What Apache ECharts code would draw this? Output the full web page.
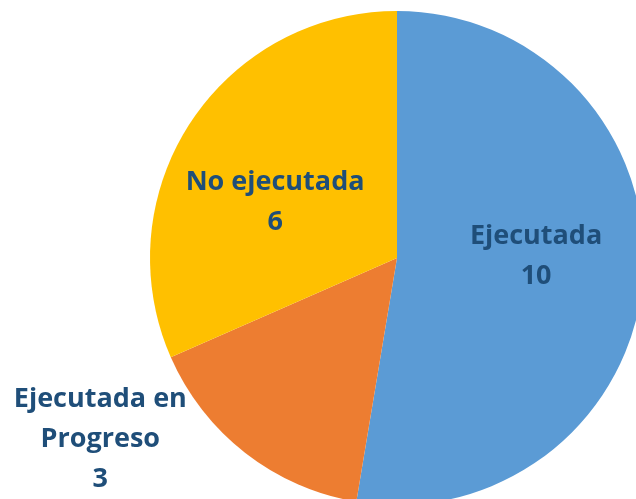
<!DOCTYPE html>
<html>
<head>
<meta charset="utf-8">
<script src="https://cdn.jsdelivr.net/npm/echarts@6/dist/echarts.min.js"></script>
<style>html,body{margin:0;padding:0;background:#fff;}#c{width:636px;height:499px;}</style>
</head>
<body>
<div id="c"></div>
<script>
var categories = ['Ejecutada', 'Ejecutada en\nProgreso', 'No ejecutada'];
var values = [10, 3, 6];
var colors = ['#5B9BD5', '#ED7D31', '#FFC000'];
var labelOffsets = [[13, -12], [-219, 81], [-16, 14]];

var chart = echarts.init(document.getElementById('c'), null, {renderer: 'canvas'});
var data = categories.map(function (c, i) {
  return {
    name: c,
    value: values[i],
    itemStyle: {color: colors[i]},
    label: {offset: labelOffsets[i]}
  };
});
chart.setOption({
  animation: false,
  backgroundColor: '#ffffff',
  series: [{
    type: 'pie',
    center: [397, 258],
    radius: 247,
    startAngle: 90,
    clockwise: true,
    data: data,
    emphasis: {disabled: true},
    label: {
      show: true,
      position: 'inside',
      formatter: '{b}\n{c}',
      color: '#1F4E79',
      fontFamily: 'Open Sans',
      fontWeight: 'bold',
      fontSize: 27,
      lineHeight: 40,
      align: 'center'
    },
    labelLine: {show: false}
  }]
});
</script>
</body>
</html>
